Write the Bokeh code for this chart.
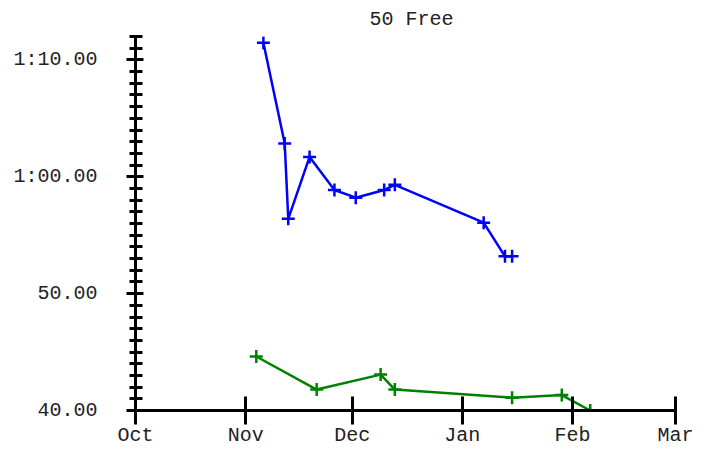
import pandas as pd
from bokeh.plotting import figure
from bokeh.models import Range1d, FixedTicker, CustomJSTickFormatter, DatetimeTickFormatter
from bokeh.embed import file_html
from bokeh.resources import INLINE

# ---- data ----
blue_dates = ["2023-11-06", "2023-11-12", "2023-11-13", "2023-11-19", "2023-11-26",
              "2023-12-02", "2023-12-10", "2023-12-13", "2024-01-07", "2024-01-13", "2024-01-15"]
blue_times = [71.46, 62.85, 56.40, 61.70, 58.87, 58.21, 58.87, 59.31, 56.07, 53.19, 53.19]

green_dates = ["2023-11-04", "2023-11-21", "2023-12-09", "2023-12-13", "2024-01-15",
               "2024-01-29", "2024-02-06"]
green_times = [44.62, 41.79, 43.07, 41.79, 41.10, 41.32, 40.0]

month_starts = ["2023-10-01", "2023-11-01", "2023-12-01", "2024-01-01", "2024-02-01", "2024-03-01"]
y_major = [40, 50, 60, 70]
y_minor = list(range(41, 73))
y_min, y_max = 40, 72
title_text = "50 Free"

FONT = "Liberation Mono"

def to_ms(strs):
    ts = pd.to_datetime(strs)
    return [int((t - pd.Timestamp("1970-01-01")) // pd.Timedelta("1ms")) for t in ts]

month_ms = to_ms(month_starts)
blue_x = pd.to_datetime(blue_dates)
green_x = pd.to_datetime(green_dates)

p = figure(width=711, height=450, x_axis_type="datetime",
           x_range=Range1d(month_ms[0], month_ms[-1]),
           y_range=Range1d(y_min, y_max),
           output_backend="svg", toolbar_location=None,
           min_border_left=135, min_border_right=36,
           min_border_top=35, min_border_bottom=40)

p.title.text = title_text
p.title.text_font = FONT
p.title.text_font_size = "20px"
p.title.text_font_style = "normal"
p.title.align = "left"
p.title.offset = 234
p.title.standoff = 11
p.title.text_color = "#222222"

p.outline_line_color = None
p.xgrid.visible = False
p.ygrid.visible = False
p.background_fill_color = "white"
p.border_fill_color = "white"

# lines + cross markers
p.line(blue_x, blue_times, line_color="#0000ff", line_width=2.5)
p.scatter(blue_x, blue_times, marker="cross", size=13, line_color="#0000ff", line_width=2.5)
p.line(green_x, green_times, line_color="#008000", line_width=2.5)
p.scatter(green_x, green_times, marker="cross", size=13, line_color="#008000", line_width=2.5)

# x axis
xa = p.xaxis[0]
xa.ticker = FixedTicker(ticks=month_ms, minor_ticks=[])
fmt = "%b"
xa.formatter = DatetimeTickFormatter(microseconds=fmt, milliseconds=fmt, seconds=fmt,
                                     minsec=fmt, minutes=fmt, hourmin=fmt, hours=fmt,
                                     days=fmt, months=fmt, years=fmt)
xa.axis_line_width = 3
xa.major_tick_line_width = 3
xa.major_tick_in = 14
xa.major_tick_out = 14
xa.minor_tick_in = 0
xa.minor_tick_out = 0
xa.major_label_text_font = FONT
xa.major_label_text_font_size = "20px"
xa.major_label_text_color = "#222222"
xa.major_label_standoff = -1

# y axis
ya = p.yaxis[0]
ya.ticker = FixedTicker(ticks=y_major, minor_ticks=y_minor)
ya.formatter = CustomJSTickFormatter(code="""
    const m = Math.floor(tick / 60);
    const s = tick - 60 * m;
    const ss = s.toFixed(2);
    if (m > 0) { return m + ":" + (s < 10 ? "0" : "") + ss; }
    return ss;
""")
ya.axis_line_width = 3
ya.major_tick_line_width = 3
ya.minor_tick_line_width = 3
ya.major_tick_in = 8
ya.major_tick_out = 9
ya.minor_tick_in = 7
ya.minor_tick_out = 6
ya.major_label_text_font = FONT
ya.major_label_text_font_size = "20px"
ya.major_label_text_color = "#222222"
ya.major_label_standoff = 29

open("out.html", "w").write(file_html(p, INLINE))
